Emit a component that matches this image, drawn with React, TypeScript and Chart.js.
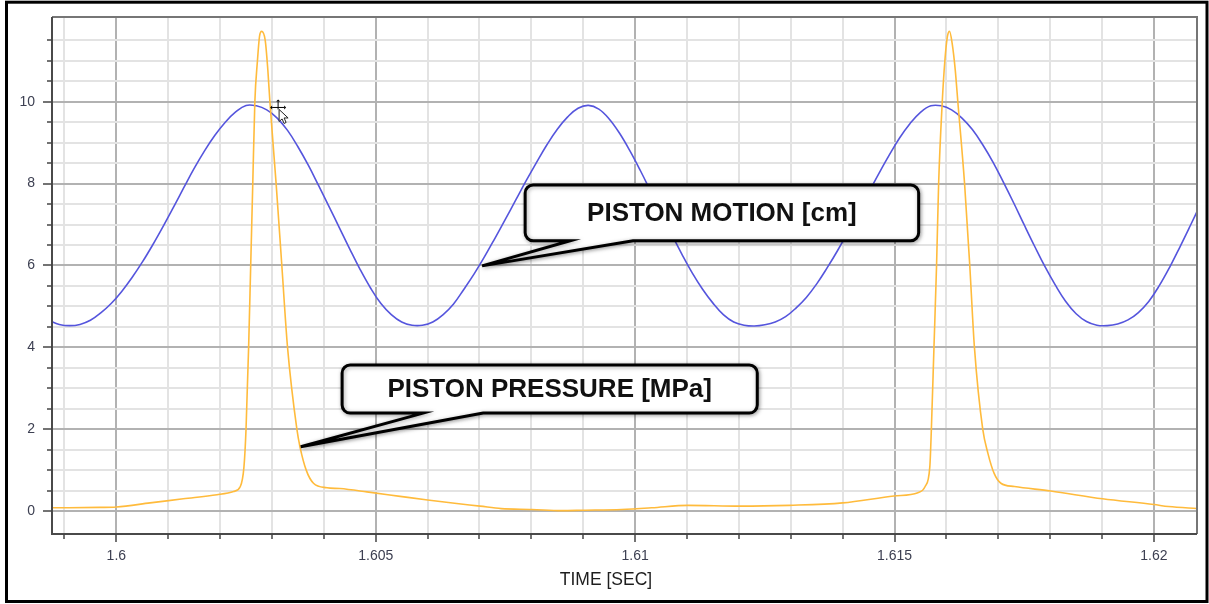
import { useEffect, useRef } from 'react';
import { Chart, registerables } from 'chart.js';

Chart.register(...registerables);

// ---- data ----
const motionTime = [
  1.5987, 1.5989, 1.5991, 1.5993, 1.5995, 1.5997, 1.5999, 1.6001, 1.6003, 1.6005,
  1.6007, 1.6009, 1.6011, 1.6013, 1.6015, 1.6017, 1.6019, 1.6021, 1.6023, 1.6025,
  1.6027, 1.6029, 1.6031, 1.6033, 1.6035, 1.6037, 1.6039, 1.6041, 1.6043, 1.6045,
  1.6047, 1.6049, 1.6051, 1.6053, 1.6055, 1.6057, 1.6059, 1.6061, 1.6063, 1.6065,
  1.6067, 1.6069, 1.6071, 1.6073, 1.6075, 1.6077, 1.6079, 1.6081, 1.6083, 1.6085,
  1.6087, 1.6089, 1.6091, 1.6093, 1.6095, 1.6097, 1.6099, 1.6101, 1.6103, 1.6105,
  1.6107, 1.6109, 1.6111, 1.6113, 1.6115, 1.6117, 1.6119, 1.6121, 1.6123, 1.6125,
  1.6127, 1.6129, 1.6131, 1.6133, 1.6135, 1.6137, 1.6139, 1.6141, 1.6143, 1.6145,
  1.6147, 1.6149, 1.6151, 1.6153, 1.6155, 1.6157, 1.6159, 1.6161, 1.6163, 1.6165,
  1.6167, 1.6169, 1.6171, 1.6173, 1.6175, 1.6177, 1.6179, 1.6181, 1.6183, 1.6185,
  1.6187, 1.6189, 1.6191, 1.6193, 1.6195, 1.6197, 1.6199, 1.6201, 1.6203, 1.6205,
  1.6207, 1.6209,
];
const motionValue = [
  4.66, 4.56, 4.53, 4.56, 4.66, 4.84, 5.07, 5.36, 5.7, 6.08,
  6.5, 6.95, 7.42, 7.9, 8.37, 8.8, 9.18, 9.5, 9.75, 9.91,
  9.9, 9.8, 9.6, 9.3, 8.9, 8.45, 7.95, 7.44, 6.92, 6.4,
  5.9, 5.45, 5.07, 4.8, 4.62, 4.54, 4.54, 4.62, 4.8, 5.06,
  5.42, 5.8, 6.22, 6.67, 7.13, 7.6, 8.07, 8.52, 8.95, 9.33,
  9.63, 9.84, 9.91, 9.82, 9.58, 9.23, 8.8, 8.32, 7.81, 7.29,
  6.77, 6.28, 5.82, 5.42, 5.08, 4.8, 4.62, 4.54, 4.52, 4.55,
  4.62, 4.75, 4.96, 5.22, 5.55, 5.94, 6.36, 6.82, 7.3, 7.78,
  8.25, 8.7, 9.12, 9.47, 9.74, 9.9, 9.9, 9.8, 9.6, 9.32,
  8.95, 8.52, 8.03, 7.52, 6.99, 6.47, 5.97, 5.52, 5.12, 4.82,
  4.63, 4.54, 4.53, 4.57, 4.67, 4.85, 5.12, 5.5, 5.95, 6.45,
  6.97, 7.5,
];

const pressureTime = [
  1.59878, 1.59968, 1.6, 1.60065, 1.60129, 1.60194, 1.60226, 1.60239, 1.60246, 1.6025,
  1.60255, 1.60259, 1.60263, 1.60267, 1.60272, 1.60276, 1.6028, 1.60287, 1.60292, 1.60296,
  1.60308, 1.60319, 1.6033, 1.60348, 1.60354, 1.60366, 1.6038, 1.60406, 1.60431, 1.60483,
  1.60547, 1.606, 1.60652, 1.60701, 1.60742, 1.60801, 1.60858, 1.609, 1.60974, 1.61032,
  1.61102, 1.61203, 1.61297, 1.614, 1.61499, 1.61545, 1.61559, 1.61568, 1.61571, 1.61576,
  1.61581, 1.61585, 1.61592, 1.61597, 1.61602, 1.61606, 1.61611, 1.61617, 1.61622, 1.61635,
  1.61645, 1.61654, 1.6167, 1.6168, 1.61692, 1.61705, 1.61731, 1.61801, 1.61901, 1.62,
  1.62028, 1.62086,
];
const pressureValue = [
  0.08, 0.09, 0.1, 0.2, 0.3, 0.4, 0.48, 0.6, 1.08, 2.0,
  4.0, 6.0, 8.0, 10.0, 11.0, 11.6, 11.72, 11.5, 10.78, 10.0,
  8.0, 6.0, 4.0, 2.0, 1.57, 1.0, 0.68, 0.57, 0.55, 0.47,
  0.36, 0.27, 0.19, 0.12, 0.06, 0.04, 0.01, 0.02, 0.04, 0.08,
  0.14, 0.12, 0.14, 0.2, 0.37, 0.45, 0.6, 1.08, 2.0, 4.0,
  6.0, 8.0, 10.0, 11.0, 11.6, 11.72, 11.43, 10.78, 10.0, 8.0,
  6.0, 4.0, 2.0, 1.41, 0.92, 0.68, 0.6, 0.49, 0.3, 0.16,
  0.11, 0.06,
];

const xLabelValues = [1.6, 1.605, 1.61, 1.615, 1.62];
const yLabelValues = [0, 2, 4, 6, 8, 10];
const xAxisTitle = 'TIME [SEC]';
const motionLabel = 'PISTON MOTION [cm]';
const pressureLabel = 'PISTON PRESSURE [MPa]';

const X_MIN = 1.59876;
const X_MAX = 1.62083;
const Y_MIN = -0.56;
const Y_MAX = 12.07;

// callout anchors in data space: tip point, box corners, tail base on box bottom
const callouts = [
  { text: motionLabel, tip: [1.60705, 5.99], box: [1.60788, 7.965, 1.615465, 6.604], base: [1.60875, 1.60996] },
  { text: pressureLabel, tip: [1.603554, 1.571], box: [1.604352, 3.567, 1.612354, 2.394], base: [1.605914, 1.607071] },
];
const cursorAt = [1.603118, 9.86];

const FONT = '"Liberation Sans", Arial, sans-serif';
const LABEL_COLOR = '#3d4052';

const near = (a: number, b: number) => Math.abs(a - b) < 1e-9;
const isMajorX = (v: number) => xLabelValues.some((m) => near(m, v));
const isMajorY = (v: number) => yLabelValues.some((m) => near(m, v));

const xTickValues: number[] = [];
for (let i = 1599; i <= 1620; i++) xTickValues.push(i / 1000);
const yTickValues: number[] = [];
for (let i = -1; i <= 24; i++) yTickValues.push(i * 0.5);

function calloutPath(ctx: CanvasRenderingContext2D, l: number, t: number, r: number, b: number, rad: number, bl: number, br: number, tx: number, ty: number) {
  ctx.beginPath();
  ctx.moveTo(l + rad, t);
  ctx.lineTo(r - rad, t);
  ctx.arcTo(r, t, r, t + rad, rad);
  ctx.lineTo(r, b - rad);
  ctx.arcTo(r, b, r - rad, b, rad);
  ctx.lineTo(br, b);
  ctx.lineTo(tx, ty);
  ctx.lineTo(bl, b);
  ctx.lineTo(l + rad, b);
  ctx.arcTo(l, b, l, b - rad, rad);
  ctx.lineTo(l, t + rad);
  ctx.arcTo(l, t, l + rad, t, rad);
  ctx.closePath();
}

const decorPlugin = {
  id: 'decor',
  afterDraw(chart: any) {
    const { ctx, chartArea: ca, scales } = chart;
    const xs = scales.x;
    const ys = scales.y;
    ctx.save();

    // plot border (top/right)
    ctx.lineWidth = 2;
    ctx.strokeStyle = '#767676';
    ctx.beginPath();
    ctx.moveTo(ca.left, ca.top);
    ctx.lineTo(ca.right, ca.top);
    ctx.lineTo(ca.right, ca.bottom);
    ctx.stroke();
    // axes (left/bottom)
    ctx.strokeStyle = '#4a4a4a';
    ctx.beginPath();
    ctx.moveTo(ca.left, ca.top);
    ctx.lineTo(ca.left, ca.bottom);
    ctx.lineTo(ca.right, ca.bottom);
    ctx.stroke();

    // tick marks
    ctx.lineWidth = 1.5;
    ctx.strokeStyle = '#444';
    for (const v of xTickValues) {
      const px = Math.round(xs.getPixelForValue(v));
      const len = isMajorX(v) ? 8 : 5;
      ctx.beginPath();
      ctx.moveTo(px, ca.bottom);
      ctx.lineTo(px, ca.bottom + len);
      ctx.stroke();
    }
    for (const v of yTickValues) {
      if (v < 0 || v > 11.75) continue;
      const py = Math.round(ys.getPixelForValue(v));
      const len = isMajorY(v) ? 9 : 5;
      ctx.beginPath();
      ctx.moveTo(ca.left, py);
      ctx.lineTo(ca.left - len, py);
      ctx.stroke();
    }

    // callouts
    for (const c of callouts) {
      const l = xs.getPixelForValue(c.box[0]);
      const t = ys.getPixelForValue(c.box[1]);
      const r = xs.getPixelForValue(c.box[2]);
      const b = ys.getPixelForValue(c.box[3]);
      const bl = xs.getPixelForValue(c.base[0]);
      const br = xs.getPixelForValue(c.base[1]);
      const tx = xs.getPixelForValue(c.tip[0]);
      const ty = ys.getPixelForValue(c.tip[1]);
      calloutPath(ctx, l, t, r, b, 8, bl, br, tx, ty);
      ctx.save();
      ctx.shadowColor = 'rgba(0,0,0,0.35)';
      ctx.shadowBlur = 4;
      ctx.shadowOffsetX = 1;
      ctx.shadowOffsetY = 1;
      ctx.fillStyle = '#ffffff';
      ctx.fill();
      ctx.lineWidth = 3;
      ctx.strokeStyle = '#000';
      ctx.lineJoin = 'miter';
      ctx.stroke();
      ctx.restore();
      ctx.fillStyle = '#111';
      ctx.font = `bold 26px ${FONT}`;
      ctx.textAlign = 'center';
      ctx.textBaseline = 'middle';
      ctx.fillText(c.text, (l + r) / 2, (t + b) / 2 + 1);
    }

    // mouse cursor (move icon + arrow)
    {
      const cx = xs.getPixelForValue(cursorAt[0]);
      const cy = ys.getPixelForValue(cursorAt[1]);
      ctx.strokeStyle = '#000';
      ctx.fillStyle = '#000';
      ctx.lineWidth = 1;
      ctx.beginPath();
      ctx.moveTo(cx - 6, cy); ctx.lineTo(cx + 6, cy);
      ctx.moveTo(cx, cy - 6); ctx.lineTo(cx, cy + 2);
      ctx.stroke();
      const heads: [number, number, number, number][] = [[-6, 0, -1, 0], [6, 0, 1, 0], [0, -6, 0, -1]];
      for (const [hx, hy, dx, dy] of heads) {
        ctx.beginPath();
        ctx.moveTo(cx + hx + dx * 2, cy + hy + dy * 2);
        ctx.lineTo(cx + hx - dy * 2, cy + hy + dx * 2);
        ctx.lineTo(cx + hx + dy * 2, cy + hy - dx * 2);
        ctx.closePath();
        ctx.fill();
      }
      const ax = cx + 1;
      const ay = cy + 2;
      const pts = [[0, 0], [0, 12], [3, 9.5], [5, 14], [7, 13], [5, 8.5], [9, 8.5]];
      ctx.beginPath();
      pts.forEach(([px, py], i) => (i ? ctx.lineTo(ax + px, ay + py) : ctx.moveTo(ax + px, ay + py)));
      ctx.closePath();
      ctx.fillStyle = '#fff';
      ctx.fill();
      ctx.strokeStyle = '#222';
      ctx.stroke();
    }

    // x axis title
    ctx.fillStyle = '#1e1e1e';
    ctx.font = `17.5px ${FONT}`;
    ctx.textAlign = 'center';
    ctx.textBaseline = 'middle';
    ctx.fillText(xAxisTitle, 606, 580);

    // outer frame
    ctx.strokeStyle = '#000';
    ctx.lineWidth = 3;
    ctx.strokeRect(6.5, 2.2, 1200.5, 599.3);

    ctx.restore();
  },
};

export default function App() {
  const ref = useRef<HTMLCanvasElement>(null);
  useEffect(() => {
    document.body.style.margin = '0';
    const canvas = ref.current!;
    const chart = new Chart(canvas, {
      type: 'line',
      data: {
        datasets: [
          {
            label: pressureLabel,
            data: pressureTime.map((t, i) => ({ x: t, y: pressureValue[i] })),
            borderColor: '#ffbb3c',
            borderWidth: 1.6,
            pointRadius: 0,
            cubicInterpolationMode: 'monotone',
            fill: false,
            order: 0,
          },
          {
            label: motionLabel,
            data: motionTime.map((t, i) => ({ x: t, y: motionValue[i] })),
            borderColor: '#5555dd',
            borderWidth: 1.6,
            pointRadius: 0,
            tension: 0.4,
            fill: false,
            order: 1,
          },
        ],
      },
      options: {
        animation: false,
        responsive: false,
        devicePixelRatio: 1,
        events: [],
        layout: { padding: { top: 17, right: 12, left: 0, bottom: 0 } },
        plugins: {
          legend: { display: false },
          tooltip: { enabled: false },
          title: { display: false },
        },
        scales: {
          x: {
            type: 'linear',
            min: X_MIN,
            max: X_MAX,
            afterBuildTicks: (s: any) => {
              s.ticks = xTickValues.map((v) => ({ value: v }));
            },
            afterFit: (s: any) => {
              s.height = 70;
              s.paddingLeft = 0;
              s.paddingRight = 0;
            },
            border: { display: false },
            grid: {
              drawTicks: false,
              lineWidth: 2,
              color: (c: any) => (isMajorX(c.tick.value) ? '#b2b2b2' : '#e3e3e3'),
            },
            ticks: {
              autoSkip: false,
              maxRotation: 0,
              minRotation: 0,
              padding: 14,
              color: LABEL_COLOR,
              font: { family: FONT, size: 14 },
              callback: (v: any) => (isMajorX(Number(v)) ? String(Number(Number(v).toFixed(3))) : ''),
            },
          },
          y: {
            type: 'linear',
            min: Y_MIN,
            max: Y_MAX,
            afterBuildTicks: (s: any) => {
              s.ticks = yTickValues.filter((v) => v >= Y_MIN && v <= Y_MAX).map((v) => ({ value: v }));
            },
            afterFit: (s: any) => {
              s.width = 52;
              s.paddingTop = 0;
              s.paddingBottom = 0;
            },
            border: { display: false },
            grid: {
              drawTicks: false,
              lineWidth: 2,
              color: (c: any) => {
                const v = c.tick.value;
                if (v < 0 || v > 11.75) return 'rgba(0,0,0,0)';
                return isMajorY(v) ? '#b2b2b2' : '#e3e3e3';
              },
            },
            ticks: {
              autoSkip: false,
              padding: 17,
              color: LABEL_COLOR,
              font: { family: FONT, size: 14 },
              callback: (v: any) => (isMajorY(Number(v)) ? String(Number(v)) : ''),
            },
          },
        },
      },
      plugins: [decorPlugin],
    });
    return () => chart.destroy();
  }, []);
  return (
    <div style={{ position: 'fixed', left: 0, top: 0, width: 1209, height: 604, background: '#fff' }}>
      <canvas ref={ref} width={1209} height={604} style={{ display: 'block' }} />
    </div>
  );
}
